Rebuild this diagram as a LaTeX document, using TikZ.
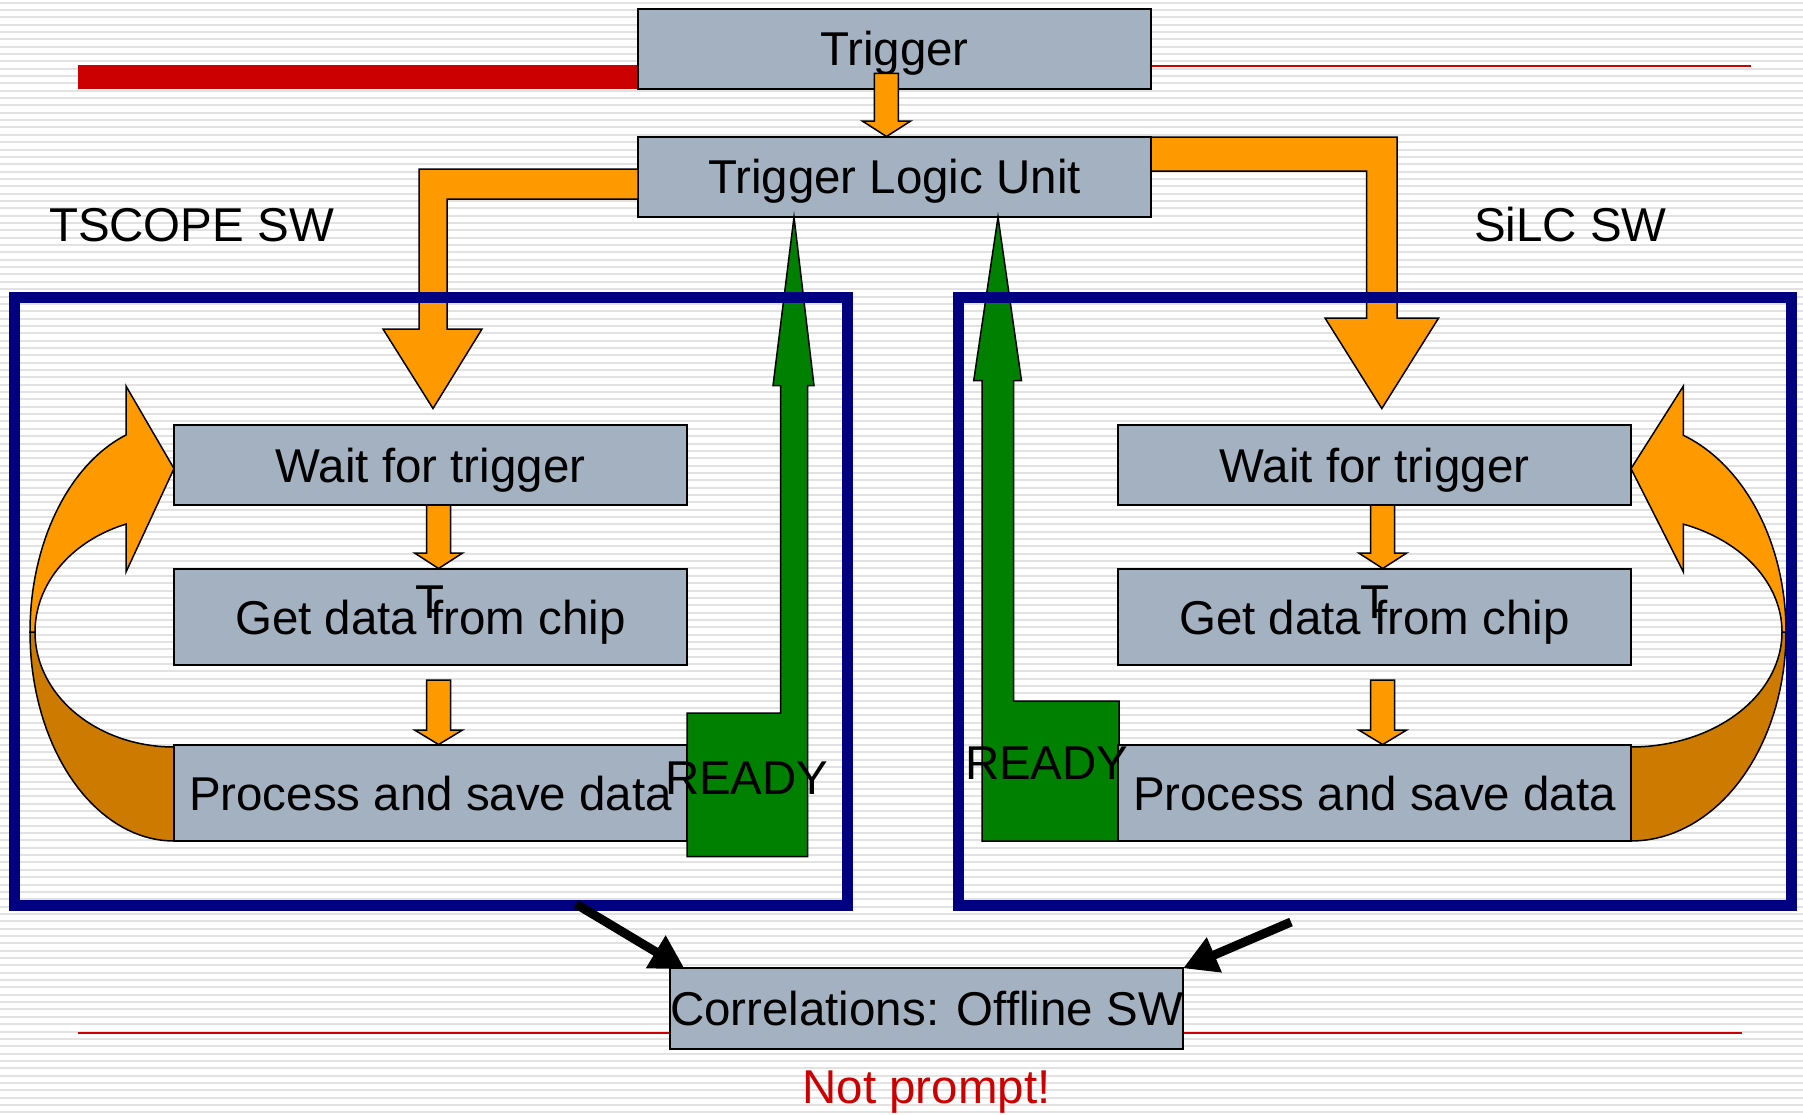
\documentclass[tikz,border=0pt]{standalone}
\usepackage{fontspec}
\setmainfont{Liberation Sans}
\usetikzlibrary{arrows.meta,calc}

\definecolor{boxfill}{RGB}{163,177,192}
\definecolor{flow}{RGB}{255,153,0}
\definecolor{flowdark}{RGB}{204,122,0}
\definecolor{readygreen}{RGB}{0,128,0}
\definecolor{swblue}{RGB}{0,0,128}
\definecolor{slidered}{RGB}{204,0,0}
\definecolor{stripe}{RGB}{226,226,226}

% one unit of the drawing grid
\newlength{\upx}
\setlength{\upx}{0.01cm}

\tikzset{
  stepbox/.style={draw=black, line width=2\upx, fill=boxfill, minimum width=513\upx,
    inner sep=0pt, outer sep=0pt, text height=9.67pt, text depth=0pt},
  blockarrow/.style={draw=black, line width=1.5\upx, line join=miter},
  swframe/.style={draw=swblue, line width=11\upx},
  freetext/.style={inner sep=0pt, outer sep=0pt},
  offline/.style={line width=9\upx, -{Triangle[length=9.7pt,width=10.2pt]}},
}

\begin{document}
\begin{tikzpicture}[x=0.01cm, y=-0.01cm, font=\fontsize{13.5}{16.2}\selectfont]
\useasboundingbox (0,0) rectangle (1803,1114);

% striped slide background
\fill[white] (0,0) rectangle (1803,1114);
\foreach \k in {0,...,151}
  \draw[stripe, line width=2\upx] (0,{2.5+7.35*\k}) -- (1803,{2.5+7.35*\k});

% title rule and footer rule
\fill[slidered] (78,65) rectangle (638,89);
\draw[slidered, line width=2\upx] (1151,66) -- (1751,66);
\draw[slidered, line width=1.5\upx] (78,1033) -- (1742,1033);

% trigger chain
\node[stepbox, minimum height=80.5\upx] (trig) at (894.5,48.75) {Trigger};
\node[stepbox, minimum height=80.5\upx] (tlu) at (894.5,176.75) {Trigger Logic Unit};

\draw[blockarrow, fill=flow] (874.3,73.3) -- (898.3,73.3) -- (898.3,121) -- (910.7,121)
  -- (886.5,136.5) -- (862.3,121) -- (874.3,121) -- cycle;

% trigger fan-out to both software loops
\draw[blockarrow, fill=flow] (638,169) -- (419,169) -- (419,329) -- (383,329) -- (433,408.5)
  -- (482,329) -- (447,329) -- (447,199) -- (638,199) -- cycle;
\draw[blockarrow, fill=flow] (1151,137) -- (1397,137) -- (1397,318) -- (1438.6,318)
  -- (1381.8,408.5) -- (1325,318) -- (1366.6,318) -- (1366.6,171) -- (1151,171) -- cycle;

% loop-back arrow, TSCOPE side
\draw[blockarrow, fill=flowdark]
  plot[domain=90:180, samples=40] ({174+144*cos(\x)},{632+209*sin(\x)})
  -- plot[domain=180:90, samples=40] ({174+139*cos(\x)},{632+115*sin(\x)}) -- cycle;
\draw[blockarrow, fill=flow]
  plot[domain=180:250.53, samples=40] ({174+144*cos(\x)},{632+209*sin(\x)})
  -- (126,386) -- (174,468.6) -- (126,572)
  -- plot[domain=249.8:180, samples=40] ({174+139*cos(\x)},{632+115*sin(\x)}) -- cycle;

% loop-back arrow, SiLC side
\draw[blockarrow, fill=flowdark]
  plot[domain=90:180, samples=40] ({1631-155*cos(\x)},{632+209*sin(\x)})
  -- plot[domain=180:90, samples=40] ({1631-151*cos(\x)},{632+115*sin(\x)}) -- cycle;
\draw[blockarrow, fill=flow]
  plot[domain=180:250.24, samples=40] ({1631-155*cos(\x)},{632+209*sin(\x)})
  -- (1683.4,386) -- (1631,468.6) -- (1683.4,572)
  -- plot[domain=249.7:180, samples=40] ({1631-151*cos(\x)},{632+115*sin(\x)}) -- cycle;

% READY signals back to the trigger logic unit
\draw[blockarrow, fill=readygreen] (687,713) -- (780.7,713) -- (780.7,385.7) -- (773,385.7)
  -- (794,217) -- (814,385.7) -- (807.7,385.7) -- (807.7,856.7) -- (687,856.7) -- cycle;
\draw[blockarrow, fill=readygreen] (982,841) -- (982,380.7) -- (973.7,380.7) -- (998,217)
  -- (1021.5,380.7) -- (1013.5,380.7) -- (1013.5,701) -- (1119,701) -- (1119,841) -- cycle;

% TSCOPE loop
\node[stepbox, minimum height=80\upx] (waitL) at (430.5,465) {Wait for trigger};
\node[stepbox, minimum height=96\upx] (getL) at (430.5,617) {Get data from chip};
\node[stepbox, minimum height=96\upx] (procL) at (430.5,793) {Process and save data};

% SiLC loop
\node[stepbox, minimum height=80\upx] (waitR) at (1374.5,465) {Wait for trigger};
\node[stepbox, minimum height=96\upx] (getR) at (1374.5,617) {Get data from chip};
\node[stepbox, minimum height=96\upx] (procR) at (1374.5,793) {Process and save data};

% step arrows inside the loops
\foreach \cx in {438.6,1382.7} {
  \draw[blockarrow, fill=flow] ({\cx-12},505) -- ({\cx+12},505) -- ({\cx+12},553) -- ({\cx+24},553)
    -- (\cx,568.5) -- ({\cx-24},553) -- ({\cx-12},553) -- cycle;
  \draw[blockarrow, fill=flow] ({\cx-12},680) -- ({\cx+12},680) -- ({\cx+12},730) -- ({\cx+24},730)
    -- (\cx,744.5) -- ({\cx-24},730) -- ({\cx-12},730) -- cycle;
}

% software frames
\draw[swframe] (14.5,297) rectangle (847,905);
\draw[swframe] (958.5,297) rectangle (1791,905);

% offline stage
\node[stepbox, minimum height=81\upx] (corr) at (926.5,1008.8) {Correlations: Offline SW};
\coordinate (tailL) at (576,904);
\coordinate (tailR) at (1291,922);
\draw[offline] (tailL) -- ($(corr.north west)+(15,1)$);
\draw[offline] (tailR) -- (corr.north east);

% labels
\node[freetext, anchor=base west] (tscope) at (49,241) {TSCOPE SW};
\node[freetext, anchor=base west] (silc) at (1474,241) {SiLC SW};
\node[freetext, anchor=base west] (readyL) at (665,794) {READY};
\node[freetext, anchor=base west] (readyR) at (965,779.6) {READY};
\node[freetext, anchor=base west] (strayL) at (415,618) {T};
\node[freetext, anchor=base west] (strayR) at (1360,618) {T};
\node[freetext, anchor=base, text=slidered] (prompt) at (926.5,1103.5) {Not prompt!};
\end{tikzpicture}
\end{document}
